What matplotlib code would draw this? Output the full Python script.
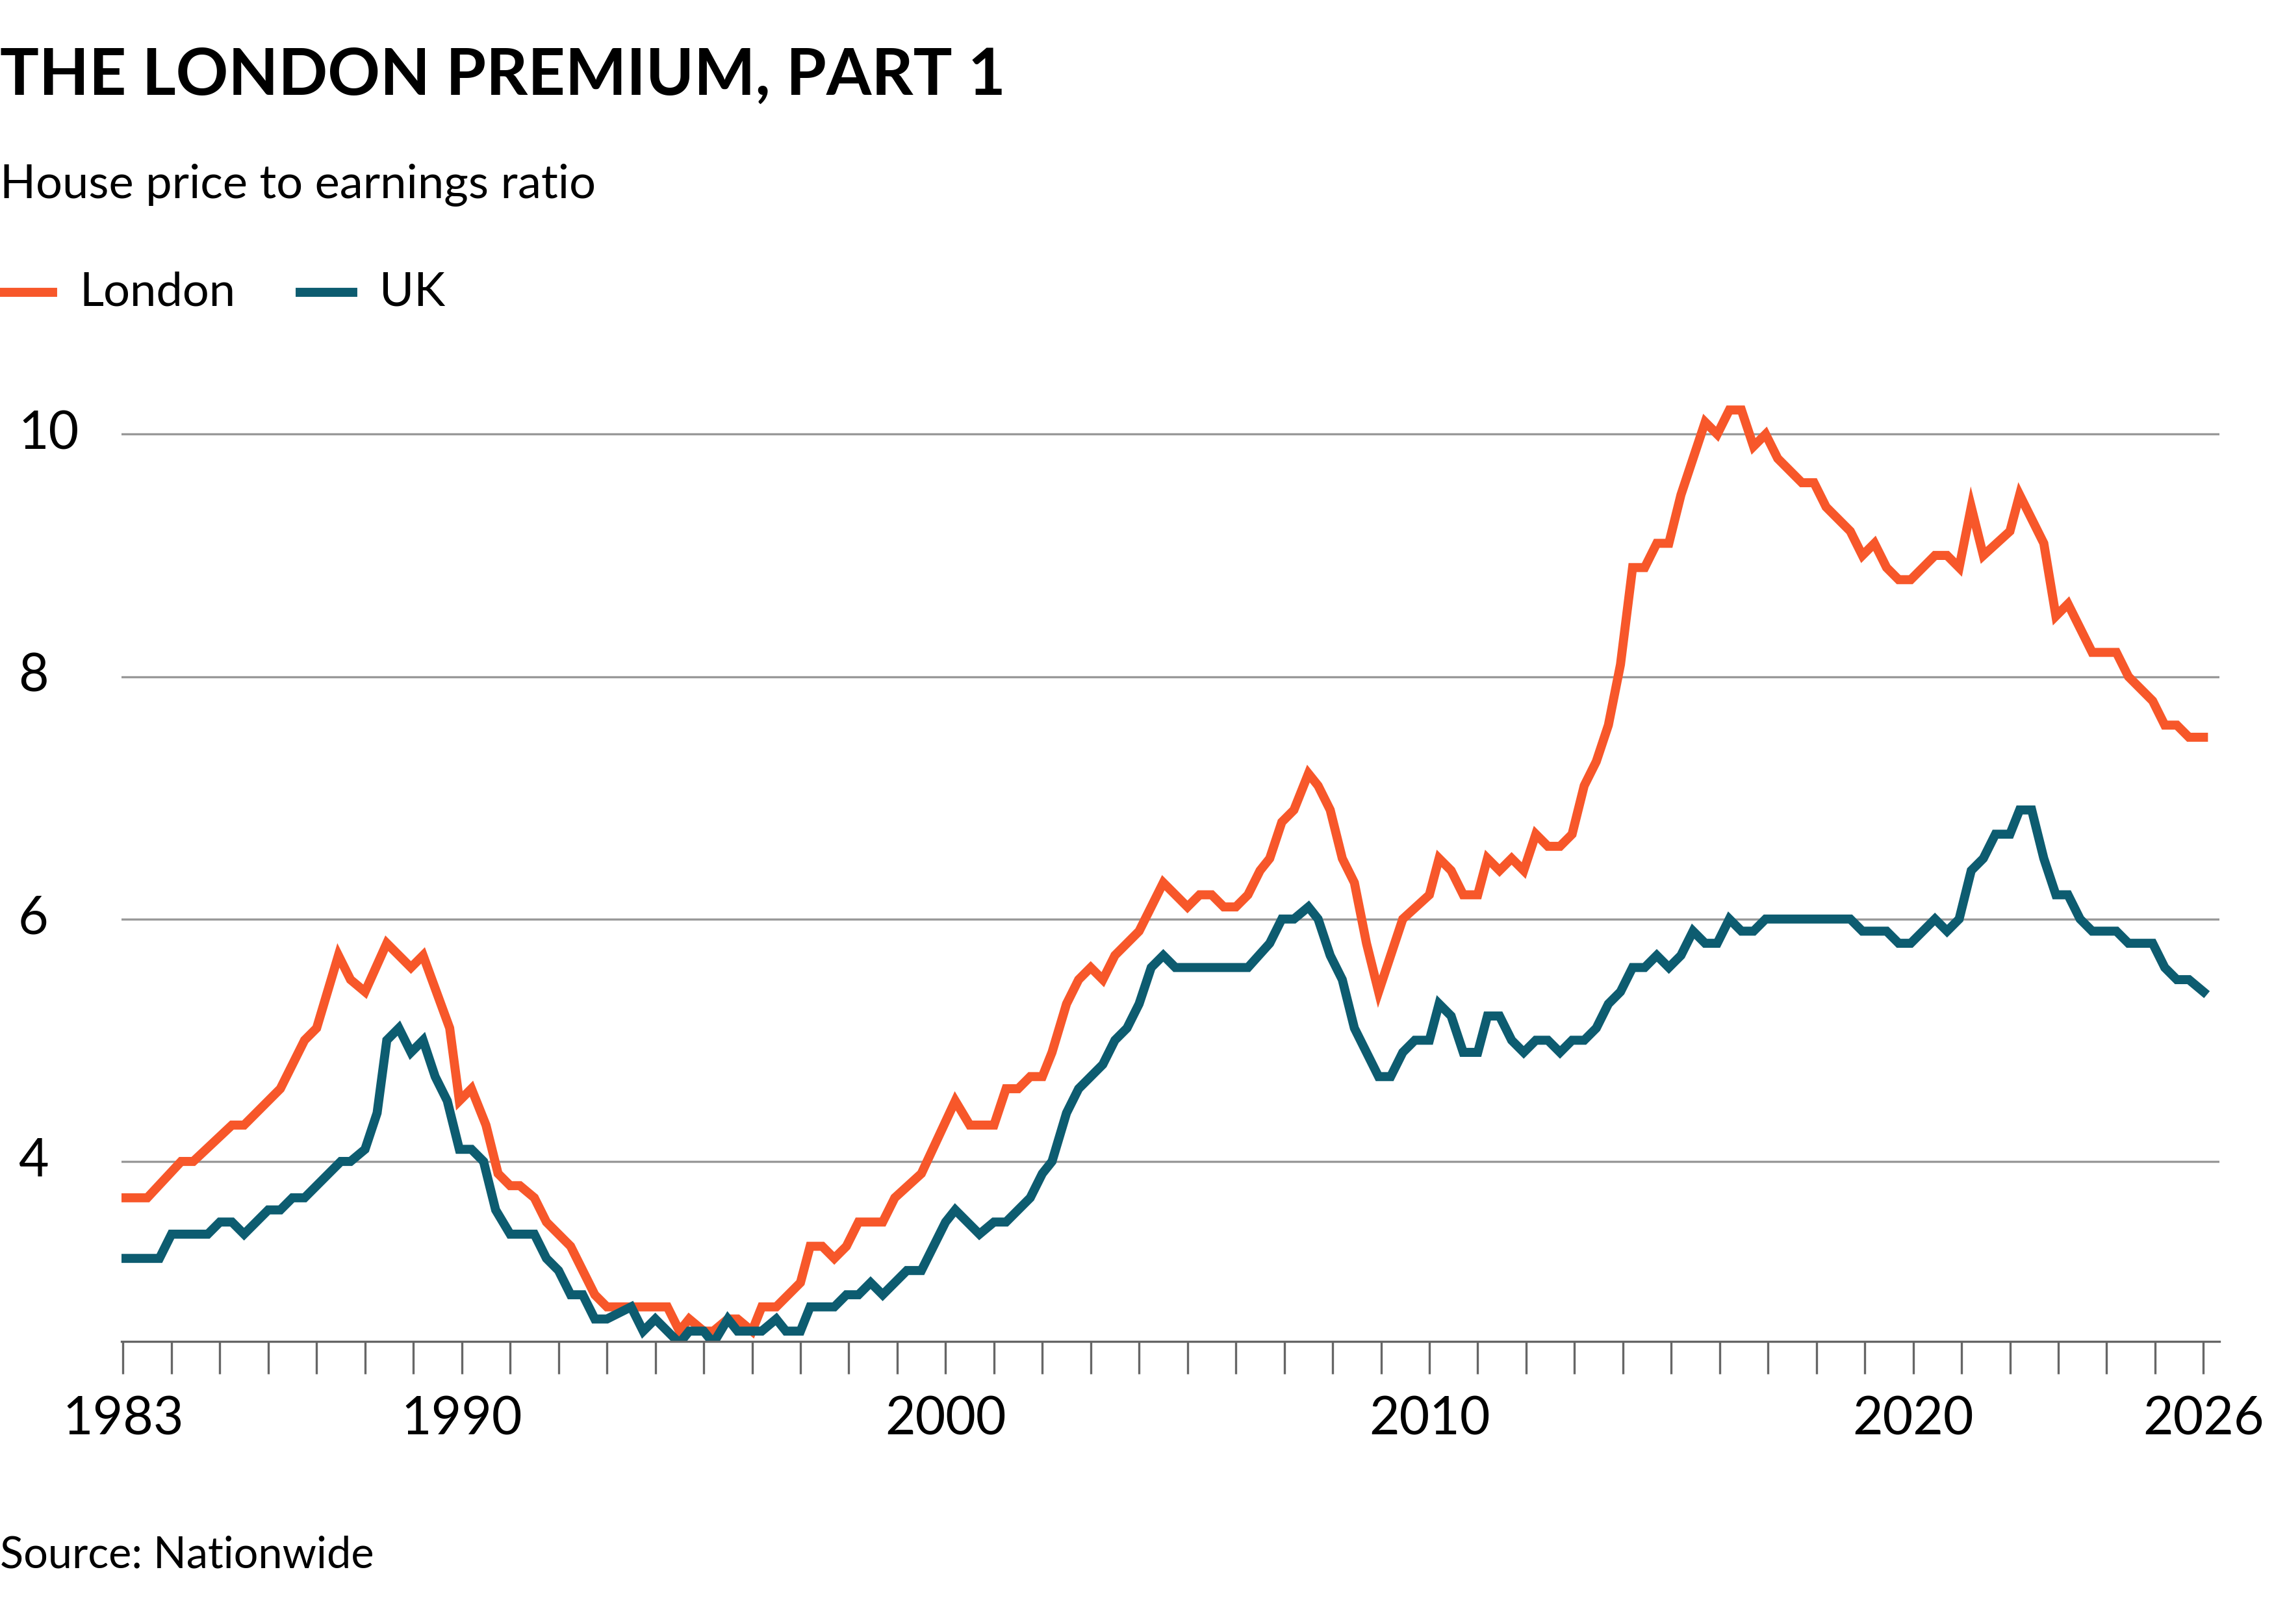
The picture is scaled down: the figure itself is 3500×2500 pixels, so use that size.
import matplotlib
matplotlib.use("Agg")
import matplotlib.pyplot as plt
from matplotlib.ticker import FixedLocator
import matplotlib.transforms as mtransforms

london_x = [1983.0,1983.5,1984.2,1984.45,1985.25,1985.5,1986.25,1986.75,1987.0,1987.45,1987.7,1988.0,1988.45,1988.95,1989.2,1989.75,1989.95,1990.2,1990.5,1990.75,1991.0,1991.2,1991.5,1991.75,1992.25,1992.75,1993.0,1994.25,1994.5,1994.7,1995.0,1995.2,1995.5,1995.7,1996.0,1996.2,1996.5,1997.0,1997.2,1997.45,1997.7,1997.95,1998.2,1998.7,1998.95,1999.5,2000.2,2000.5,2001.0,2001.25,2001.5,2001.75,2002.0,2002.2,2002.5,2002.75,2003.0,2003.25,2003.5,2004.0,2004.5,2005.0,2005.25,2005.5,2005.75,2006.0,2006.25,2006.5,2006.7,2006.95,2007.2,2007.5,2007.7,2007.95,2008.2,2008.45,2008.7,2008.95,2009.45,2010.0,2010.2,2010.45,2010.7,2011.0,2011.2,2011.45,2011.7,2011.95,2012.2,2012.45,2012.7,2012.95,2013.2,2013.45,2013.7,2013.95,2014.2,2014.45,2014.7,2014.95,2015.2,2015.7,2015.95,2016.2,2016.45,2016.7,2016.95,2017.2,2017.7,2017.95,2018.2,2018.7,2018.95,2019.2,2019.45,2019.7,2019.95,2020.45,2020.7,2020.95,2021.2,2021.45,2022.0,2022.2,2022.7,2022.95,2023.2,2023.7,2024.2,2024.45,2024.95,2025.2,2025.45,2025.7,2026.0]
london_y = [3.7,3.7,4.0,4.0,4.3,4.3,4.6,5.0,5.1,5.7,5.5,5.4,5.8,5.6,5.7,5.1,4.5,4.6,4.3,3.9,3.8,3.8,3.7,3.5,3.3,2.9,2.8,2.8,2.6,2.7,2.6,2.6,2.7,2.7,2.6,2.8,2.8,3.0,3.3,3.3,3.2,3.3,3.5,3.5,3.7,3.9,4.5,4.3,4.3,4.6,4.6,4.7,4.7,4.9,5.3,5.5,5.6,5.5,5.7,5.9,6.3,6.1,6.2,6.2,6.1,6.1,6.2,6.4,6.5,6.8,6.9,7.2,7.1,6.9,6.5,6.3,5.8,5.4,6.0,6.2,6.5,6.4,6.2,6.2,6.5,6.4,6.5,6.4,6.7,6.6,6.6,6.7,7.1,7.3,7.6,8.1,8.9,8.9,9.1,9.1,9.5,10.1,10.0,10.2,10.2,9.9,10.0,9.8,9.6,9.6,9.4,9.2,9.0,9.1,8.9,8.8,8.8,9.0,9.0,8.9,9.4,9.0,9.2,9.5,9.1,8.5,8.6,8.2,8.2,8.0,7.8,7.6,7.6,7.5,7.5]

uk_x = [1983,1983.75,1984.0,1984.75,1985.0,1985.25,1985.5,1986.0,1986.25,1986.5,1986.75,1987.5,1987.7,1988.0,1988.25,1988.45,1988.7,1988.95,1989.2,1989.45,1989.7,1989.95,1990.2,1990.45,1990.7,1991.0,1991.5,1991.75,1992.0,1992.25,1992.5,1992.75,1993.0,1993.5,1993.75,1994.0,1994.5,1994.7,1995.0,1995.2,1995.5,1995.7,1996.2,1996.5,1996.7,1997.0,1997.2,1997.7,1997.95,1998.2,1998.45,1998.7,1999.2,1999.5,2000.0,2000.2,2000.7,2001.0,2001.25,2001.75,2002.0,2002.2,2002.5,2002.75,2003.25,2003.5,2003.75,2004.0,2004.25,2004.5,2004.75,2006.25,2006.7,2006.95,2007.2,2007.5,2007.7,2007.95,2008.2,2008.45,2008.95,2009.2,2009.45,2009.7,2010.0,2010.2,2010.45,2010.7,2011.0,2011.2,2011.45,2011.7,2011.95,2012.2,2012.45,2012.7,2012.95,2013.2,2013.45,2013.7,2013.95,2014.2,2014.45,2014.7,2014.95,2015.2,2015.45,2015.7,2015.95,2016.2,2016.45,2016.7,2016.95,2018.7,2018.95,2019.45,2019.7,2019.95,2020.45,2020.7,2020.95,2021.2,2021.45,2021.7,2022.0,2022.2,2022.45,2022.7,2022.95,2023.2,2023.45,2023.7,2024.2,2024.45,2024.95,2025.2,2025.45,2025.7,2026.0]
uk_y = [3.2,3.2,3.4,3.4,3.5,3.5,3.4,3.6,3.6,3.7,3.7,4.0,4.0,4.1,4.4,5.0,5.1,4.9,5.0,4.7,4.5,4.1,4.1,4.0,3.6,3.4,3.4,3.2,3.1,2.9,2.9,2.7,2.7,2.8,2.6,2.7,2.5,2.6,2.6,2.5,2.7,2.6,2.6,2.7,2.6,2.6,2.8,2.8,2.9,2.9,3.0,2.9,3.1,3.1,3.5,3.6,3.4,3.5,3.5,3.7,3.9,4.0,4.4,4.6,4.8,5.0,5.1,5.3,5.6,5.7,5.6,5.6,5.8,6.0,6.0,6.1,6.0,5.7,5.5,5.1,4.7,4.7,4.9,5.0,5.0,5.3,5.2,4.9,4.9,5.2,5.2,5.0,4.9,5.0,5.0,4.9,5.0,5.0,5.1,5.3,5.4,5.6,5.6,5.7,5.6,5.7,5.9,5.8,5.8,6.0,5.9,5.9,6.0,6.0,5.9,5.9,5.8,5.8,6.0,5.9,6.0,6.4,6.5,6.7,6.7,6.9,6.9,6.5,6.2,6.2,6.0,5.9,5.9,5.8,5.8,5.6,5.5,5.5,5.4]

y_ticks = [4, 6, 8, 10]
major_years = [1983, 1990, 2000, 2010, 2020, 2026]

FONT = ["Lato", "DejaVu Sans"]
plt.rcParams["font.family"] = FONT
LONDON = "#F7572A"
UK = "#0D5C70"

fig = plt.figure(figsize=(17.5, 12.5), dpi=200)
ax = fig.add_axes([0.0535, 0.174, 0.9225, 0.581])
ax.plot(london_x, london_y, color=LONDON, lw=5, solid_joinstyle="miter")
ax.plot(uk_x, uk_y, color=UK, lw=5, solid_joinstyle="miter")
ax.set_xlim(1982.97, 2026.33)
ax.set_ylim(2.515, 10.3)
for s in ["top", "right", "left"]:
    ax.spines[s].set_visible(False)
ax.spines["bottom"].set_color("#666666")
ax.spines["bottom"].set_linewidth(1.2)
ax.set_yticks(y_ticks)
ax.set_yticklabels([])
ax.yaxis.grid(True, color="#999999", lw=1.2)
ax.tick_params(axis="y", length=0)
trans = mtransforms.blended_transform_factory(fig.transFigure, ax.transData)
for v in y_ticks:
    fig.text(0.008, v, str(v), transform=trans, fontsize=29, va="center", ha="left")
ax.xaxis.set_major_locator(FixedLocator(major_years))
ax.xaxis.set_minor_locator(FixedLocator(list(range(1983, 2027))))
ax.set_xticklabels([str(y) for y in major_years])
ax.tick_params(axis="x", which="both", length=18, width=1.2, color="#666666", labelsize=29, pad=12)

fig.text(0.0, 0.953, "THE LONDON PREMIUM, PART 1", fontsize=36, fontweight="bold", va="center")
fig.text(0.0, 0.886, "House price to earnings ratio", fontsize=26, va="center")
fig.lines.append(plt.Line2D([0.0, 0.023], [0.82, 0.82], color=LONDON, lw=5, transform=fig.transFigure))
fig.text(0.035, 0.82, "London", fontsize=26, va="center")
fig.lines.append(plt.Line2D([0.132, 0.155], [0.82, 0.82], color=UK, lw=5, transform=fig.transFigure))
fig.text(0.167, 0.82, "UK", fontsize=26, va="center")
fig.text(0.0, 0.042, "Source: Nationwide", fontsize=24, va="center")
fig.savefig("out.png", dpi=200, facecolor="white")
